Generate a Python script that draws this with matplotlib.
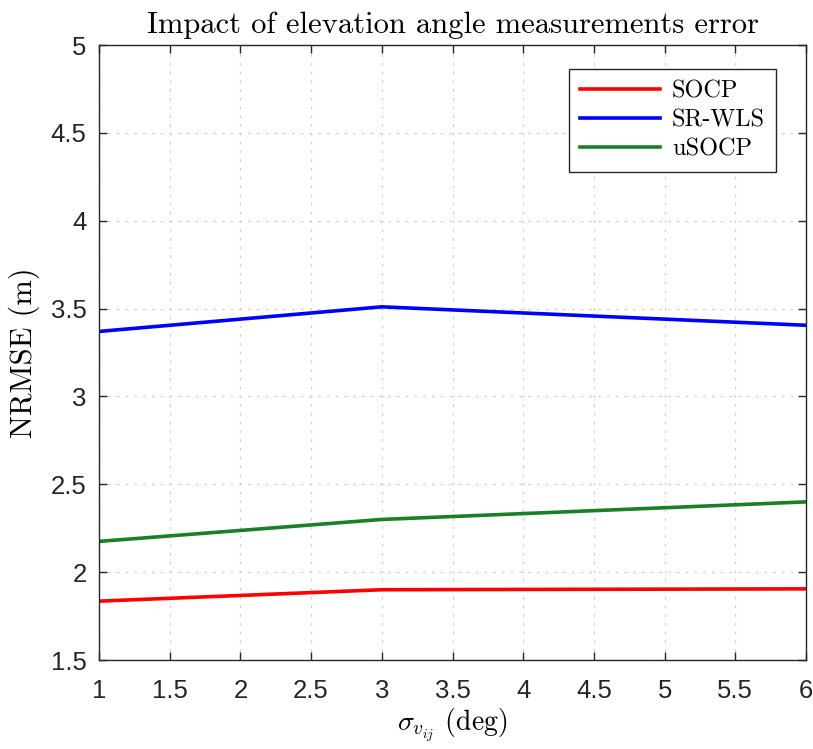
import matplotlib
matplotlib.use("Agg")
import matplotlib.pyplot as plt

# NRMSE versus elevation angle noise level
sigma_deg = [1, 3, 6]
socp = [1.835, 1.90, 1.905]
sr_wls = [3.37, 3.51, 3.405]
usocp = [2.175, 2.30, 2.40]

series_names = ["SOCP", "SR-WLS", "uSOCP"]
series_colors = ["#ff0000", "#0000ff", "#1a8026"]

x_ticks = [1, 1.5, 2, 2.5, 3, 3.5, 4, 4.5, 5, 5.5, 6]
y_ticks = [1.5, 2, 2.5, 3, 3.5, 4, 4.5, 5]

plt.rcParams["mathtext.fontset"] = "cm"
plt.rcParams["axes.unicode_minus"] = False
plt.rcParams["font.family"] = ["Liberation Sans", "DejaVu Sans"]
latex_font = "cmr10"

fig = plt.figure(figsize=(8.13, 7.49), dpi=100)
ax = fig.add_axes([0.1218, 0.1188, 0.8696, 0.8211])

for vals, name, color in zip([socp, sr_wls, usocp], series_names, series_colors):
    ax.plot(sigma_deg, vals, color=color, linewidth=2.6, label=name)

ax.set_xlim(1, 6)
ax.set_ylim(1.5, 5)
ax.set_xticks(x_ticks)
ax.set_yticks(y_ticks)
ax.set_xticklabels([f"{t:g}" for t in x_ticks])
ax.set_yticklabels([f"{t:g}" for t in y_ticks])

axis_color = "#262626"
ax.tick_params(direction="in", length=6, width=1, top=True, right=True,
               labelsize=18.5, colors=axis_color)
ax.tick_params(axis="x", pad=14)
ax.tick_params(axis="y", pad=9)
for spine in ax.spines.values():
    spine.set_color(axis_color)
    spine.set_linewidth(1.0)

ax.grid(True, linestyle=(0, (2, 5)), color="#d0d0d0", linewidth=0.9)
ax.set_axisbelow(True)

ax.set_title("Impact of elevation angle measurements error",
             fontsize=22, fontfamily=latex_font, pad=9)
ax.set_xlabel(r"$\sigma_{v_{ij}}$ (deg)", fontsize=20, fontfamily=latex_font,
              labelpad=2)
ax.set_ylabel("NRMSE (m)", fontsize=22, fontfamily=latex_font, labelpad=8)

leg = ax.legend(loc="upper right", bbox_to_anchor=(0.9576, 0.961),
                borderaxespad=0, prop={"family": latex_font, "size": 17.5},
                handlelength=3.3, handletextpad=0.5, borderpad=0.45,
                labelspacing=0.3, fancybox=False, framealpha=1)
leg.get_frame().set_edgecolor(axis_color)
leg.get_frame().set_linewidth(1.0)

fig.savefig("out.png", dpi=100)
